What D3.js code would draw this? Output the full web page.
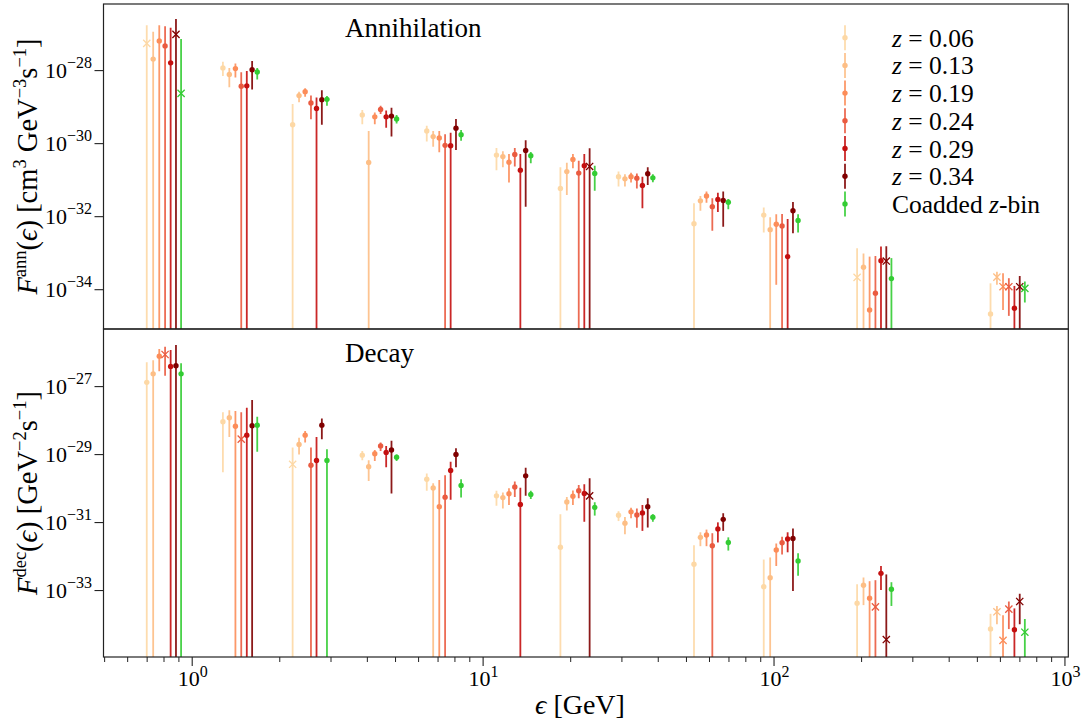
<!DOCTYPE html>
<html><head><meta charset="utf-8">
<script src="https://cdn.jsdelivr.net/npm/d3@7"></script>
<style>
body{margin:0;background:#fff}
svg{display:block}
text{font-family:"Liberation Serif","Times New Roman",serif;fill:#000}
</style>
</head><body><svg id="c" width="1086" height="724"></svg>
<script>
// ---- data ----
const energies = [0.81, 1.48, 2.57, 4.46, 7.43, 12.9, 21.4, 33.9, 61.6, 107, 224, 644];
const dodgeFactors = [0.865, 0.91, 0.955, 1, 1.045, 1.09, 1.135];
const zLabels = ["0.06", "0.13", "0.19", "0.24", "0.29", "0.34"];
const coaddLabel = "Coadded";
const seriesColors = ["#fdd8a5", "#fdbe85", "#fc8d59", "#ea5b40", "#c41010", "#800000", "#33cc33"];

// negative value = plotted as |value| with an "x" marker; lower bound 0 = bar runs off the axis
const annValue = [
  [-5.4e-28, 1.15e-28, 3.2e-30, 5.9e-30, 2.14e-30, 4.7e-31, 5.75e-32, 1.20e-31, 6.2e-33, 1.07e-32, -2.1e-34, 2.1e-35],
  [2.0e-28, 7.6e-29, 2.0e-29, 2.95e-31, 1.51e-30, 4.27e-31, 1.66e-31, 1.05e-31, 2.63e-32, 4.27e-33, 4.0e-34, -2.14e-34],
  [6.3e-28, 1.10e-28, 2.57e-29, 5.25e-30, 1.38e-30, 3.0e-31, 3.55e-31, 1.20e-31, 3.55e-32, 6.0e-33, 2.7e-35, -1.17e-34],
  [4.6e-28, 3.6e-29, 1.26e-29, 8.3e-30, 8.7e-31, 4.9e-31, 1.51e-31, 1.10e-31, 1.82e-32, 5.4e-33, 7.8e-35, -1.17e-34],
  [1.58e-28, 3.7e-29, 8.9e-30, 5.25e-30, 8.5e-31, 1.82e-31, 2.4e-31, 6.9e-32, 2.88e-32, 7.8e-34, 6.0e-34, 3.0e-35],
  [-9.5e-28, 1.02e-28, 1.55e-29, 5.5e-30, 2.57e-30, 6.3e-31, -2.3e-31, 1.45e-31, 2.69e-32, 1.41e-32, -5.9e-34, -1.17e-34],
  [-2.3e-29, 8.9e-29, 1.58e-29, 4.6e-30, 1.70e-30, 4.5e-31, 1.48e-31, 1.12e-31, 2.40e-32, 7.6e-33, 1.95e-34, -1.05e-34]
];
const annLower = [
  [0, 6.9e-29, 0, 3.3e-30, 1.10e-30, 1.82e-31, 0, 6.5e-32, 0, 3.55e-33, 0, 0],
  [0, 3.39e-29, 1.32e-29, 0, 7.9e-31, 2.19e-31, 3.8e-32, 6.5e-32, 1.41e-32, 0, 0, 1.32e-34],
  [0, 6.3e-29, 1.86e-29, 3.3e-30, 5.6e-31, 8.3e-32, 2.04e-31, 8.3e-32, 2.34e-32, 1.32e-34, 0, 2.7e-35],
  [0, 0, 4.5e-30, 6.3e-30, 0, 2.29e-31, 0, 5.75e-32, 4.0e-33, 0, 0, 1.86e-35],
  [0, 0, 0, 2.63e-30, 0, 0, 0, 1.66e-32, 1.29e-32, 0, 0, 0],
  [0, 2.95e-29, 3.2e-30, 1.51e-30, 6.5e-31, 1.82e-32, 0, 7.1e-32, 5.1e-33, 3.4e-33, 0, 0],
  [0, 5.5e-29, 1.05e-29, 3.47e-30, 1.17e-30, 2.82e-31, 5.0e-32, 8.5e-32, 1.55e-32, 3.55e-33, 0, 4.3e-35]
];
const annUpper = [
  [1.7e-27, 1.7e-28, 1.18e-29, 8.1e-30, 3.0e-30, 7.4e-31, 2.19e-31, 1.66e-31, 2.24e-32, 1.74e-32, 1.32e-33, 1.45e-34],
  [1.12e-27, 1.15e-28, 2.57e-29, 2.14e-30, 2.14e-30, 6.0e-31, 2.88e-31, 1.41e-31, 3.55e-32, 9.3e-33, 9.5e-34, 3.0e-34],
  [1.7e-27, 1.51e-28, 3.16e-29, 6.9e-30, 2.14e-30, 5.0e-31, 5.0e-31, 1.55e-31, 4.7e-32, 1.12e-32, 7.8e-34, 2.75e-34],
  [1.58e-27, 8.7e-29, 2.0e-29, 1.05e-29, 1.74e-30, 7.4e-31, 3.3e-31, 1.48e-31, 3.1e-32, 1.15e-32, 8.1e-34, 2.0e-34],
  [1.45e-27, 9.5e-29, 1.78e-29, 7.8e-30, 1.91e-30, 5.0e-31, 5.0e-31, 1.20e-31, 4.37e-32, 8.3e-33, 1.48e-33, 1.23e-34],
  [2.5e-27, 1.78e-28, 2.8e-29, 9.3e-30, 4.6e-30, 1.2e-30, 7.2e-31, 2.19e-31, 4.7e-32, 2.45e-32, 1.51e-33, 2.29e-34],
  [7.1e-28, 1.15e-28, 1.95e-29, 5.9e-30, 2.29e-30, 5.75e-31, 2.4e-31, 1.41e-31, 2.95e-32, 1.12e-32, 7.1e-34, 1.62e-34]
];

const decValue = [
  [1.29e-27, 8.9e-29, -5.0e-30, 9.3e-30, 1.82e-30, 5.9e-31, 1.82e-32, 1.58e-31, 5.75e-33, 1.26e-33, 4.07e-34, 7.2e-35],
  [2.29e-27, 1.17e-28, 1.91e-29, 4.27e-30, 1.0e-30, 5.25e-31, 3.9e-31, 9.3e-32, 3.55e-32, 2.29e-33, 1.38e-33, -2.29e-34],
  [7.6e-27, 6.6e-29, 3.6e-29, 1.02e-29, 2.82e-31, 6.8e-31, 5.75e-31, 2.0e-31, 4.17e-32, 1.51e-32, 5.75e-34, -3.3e-35],
  [-8.5e-27, -2.75e-29, 4.7e-30, 1.74e-29, 5.4e-31, 1.07e-30, 8.3e-31, 1.62e-31, 2.0e-32, 2.45e-32, -3.2e-34, -2.75e-34],
  [3.8e-27, 3.6e-29, 6.5e-30, 1.12e-29, 3.3e-30, 3.3e-31, 6.9e-31, 1.86e-31, 6.3e-32, 3.16e-32, 3.1e-33, 6.8e-35],
  [3.98e-27, 6.8e-29, 7.1e-29, 1.32e-29, 9.8e-30, 2.29e-30, -5.9e-31, 2.82e-31, 1.20e-31, 3.3e-32, -3.5e-35, -4.6e-34],
  [2.29e-27, 7.1e-29, 6.5e-30, 8.1e-30, 1.20e-30, 6.5e-31, 2.69e-31, 1.38e-31, 2.51e-32, 7.2e-33, 1.05e-33, -5.75e-35]
];
const decLower = [
  [0, 2.9e-30, 0, 6.6e-30, 8.3e-31, 3.0e-31, 0, 1.07e-31, 0, 0, 0, 0],
  [0, 3.2e-29, 9.8e-30, 1.62e-30, 0, 2.51e-31, 2.19e-31, 4.4e-32, 1.95e-32, 0, 3.6e-34, 9.8e-35],
  [2.75e-27, 0, 2.19e-29, 6.3e-30, 0, 3.16e-31, 3.16e-31, 1.29e-31, 1.95e-32, 5.1e-33, 0, 0],
  [2.0e-27, 0, 0, 1.23e-29, 0, 5.5e-31, 5.0e-31, 6.8e-32, 0, 1.12e-32, 0, 7.1e-35],
  [0, 0, 0, 4.07e-30, 4.5e-31, 0, 1.02e-31, 5.5e-32, 2.51e-32, 1.29e-32, 1.0e-33, 0],
  [0, 0, 2.75e-29, 6.9e-31, 4.07e-30, 5.9e-31, 0, 6.9e-32, 5.5e-32, 9.3e-34, 0, 9.8e-35],
  [0, 1.17e-29, 0, 6.3e-30, 5.25e-31, 4.8e-31, 1.55e-31, 1.02e-31, 1.45e-32, 2.63e-33, 3.4e-34, 0]
];
const decUpper = [
  [5.0e-27, 1.70e-28, 1.55e-29, 1.23e-29, 2.69e-30, 8.3e-31, 1.70e-31, 2.09e-31, 2.09e-32, 7.9e-33, 1.48e-33, 2.0e-34],
  [5.75e-27, 1.95e-28, 3.0e-29, 6.6e-30, 1.38e-30, 7.4e-31, 5.5e-31, 1.41e-31, 5.0e-32, 9.1e-33, 2.34e-33, 3.4e-34],
  [1.23e-26, 1.86e-28, 4.8e-29, 1.32e-29, 1.74e-30, 9.8e-31, 8.5e-31, 2.63e-31, 6.0e-32, 2.34e-32, 1.82e-33, 1.82e-34],
  [1.45e-26, 1.70e-28, 1.55e-29, 2.19e-29, 2.4e-30, 1.55e-30, 1.23e-30, 2.51e-31, 4.7e-32, 3.7e-32, 1.95e-33, 4.6e-34],
  [1.15e-26, 2.29e-28, 3.2e-29, 1.74e-29, 5.9e-30, 1.02e-30, 1.29e-30, 3.16e-31, 9.8e-32, 5.0e-32, 5.1e-33, 2.88e-34],
  [1.62e-26, 3.9e-28, 1.12e-28, 2.45e-29, 1.48e-29, 3.98e-30, 1.95e-30, 5.0e-31, 1.82e-31, 6.5e-32, 2.88e-33, 7.8e-34],
  [4.7e-27, 1.26e-28, 1.38e-29, 9.8e-30, 1.82e-30, 8.3e-31, 3.8e-31, 1.70e-31, 3.55e-32, 1.20e-32, 1.70e-33, 1.41e-34]
];

const annTicks = [1e-28, 1e-30, 1e-32, 1e-34];
const annTickExp = ["−28", "−30", "−32", "−34"];
const decTicks = [1e-27, 1e-29, 1e-31, 1e-33];
const decTickExp = ["−27", "−29", "−31", "−33"];
const xMajorTicks = [1, 10, 100, 1000];
const xMajorExp = ["0", "1", "2", "3"];
const xMinorTicks = [0.5, 0.6, 0.7, 0.8, 0.9, 2, 3, 4, 5, 6, 7, 8, 9, 20, 30, 40, 50, 60, 70, 80, 90, 200, 300, 400, 500, 600, 700, 800, 900];

// ---- layout ----
const svg = d3.select("#c");
const L = 103.5, R = 1068.3;
const x = d3.scaleLog().domain([0.4975, 1031]).range([L, R]);

const panels = [
  {id: "ann", top: 4, bottom: 329, y: d3.scaleLog().domain([Math.pow(10, -35.09), Math.pow(10, -26.19)]).range([329, 4]),
   values: annValue, lower: annLower, upper: annUpper, ticks: annTicks, tickExp: annTickExp, title: "Annihilation", titleY: 37},
  {id: "dec", top: 329, bottom: 657, y: d3.scaleLog().domain([Math.pow(10, -34.97), Math.pow(10, -25.32)]).range([657, 329]),
   values: decValue, lower: decLower, upper: decUpper, ticks: decTicks, tickExp: decTickExp, title: "Decay", titleY: 362}
];

const defs = svg.append("defs");

panels.forEach(p => {
  defs.append("clipPath").attr("id", "clip-" + p.id)
    .append("rect").attr("x", L).attr("y", p.top).attr("width", R - L).attr("height", p.bottom - p.top);

  const g = svg.append("g");
  const plot = g.append("g").attr("clip-path", `url(#clip-${p.id})`);

  for (let s = 0; s < 7; s++) {
    const col = seriesColors[s];
    const sg = plot.append("g");
    const pts = energies.map((e, i) => ({
      e: e * dodgeFactors[s], v: p.values[s][i], lo: p.lower[s][i], hi: p.upper[s][i]
    }));
    sg.selectAll("line.eb").data(pts).join("line")
      .attr("x1", d => x(d.e)).attr("x2", d => x(d.e))
      .attr("y1", d => p.y(d.hi))
      .attr("y2", d => d.lo > 0 ? p.y(d.lo) : p.bottom + 5)
      .attr("stroke", col).attr("stroke-width", 1.8).attr("stroke-opacity", 0.9);
    sg.selectAll("circle").data(pts.filter(d => d.v > 0)).join("circle")
      .attr("cx", d => x(d.e)).attr("cy", d => p.y(d.v)).attr("r", 2.7).attr("fill", col);
    sg.selectAll("path.xm").data(pts.filter(d => d.v < 0)).join("path")
      .attr("d", d => { const cx = x(d.e), cy = p.y(-d.v), k = 3.6;
        return `M${cx-k},${cy-k}L${cx+k},${cy+k}M${cx-k},${cy+k}L${cx+k},${cy-k}`; })
      .attr("stroke", col).attr("stroke-width", 1.3).attr("fill", "none");
  }

  // frame
  g.append("rect").attr("x", L).attr("y", p.top).attr("width", R - L).attr("height", p.bottom - p.top)
    .attr("fill", "none").attr("stroke", "#222").attr("stroke-width", 1.2);

  // y ticks
  const ya = g.append("g").attr("transform", `translate(${L},0)`)
    .call(d3.axisLeft(p.y).tickValues(p.ticks).tickSize(9).tickFormat(""));
  ya.select(".domain").remove();
  ya.selectAll(".tick line").attr("stroke", "#222").attr("stroke-width", 1.1);

  p.ticks.forEach((t, i) => {
    const tx = g.append("text").attr("x", 92).attr("y", p.y(t) + 7.5).attr("text-anchor", "end");
    tx.append("tspan").attr("font-size", 22).text("10");
    tx.append("tspan").attr("font-size", 16).attr("dy", -10).text(p.tickExp[i]);
  });

  g.append("text").attr("x", 345).attr("y", p.titleY).attr("font-size", 27).text(p.title);
});

// x axis (bottom panel)
const bottomY = panels[1].bottom;
const xa = svg.append("g").attr("transform", `translate(0,${bottomY})`)
  .call(d3.axisBottom(x).tickValues(xMajorTicks).tickSize(9).tickFormat(""));
xa.select(".domain").remove();
xa.selectAll(".tick line").attr("stroke", "#222").attr("stroke-width", 1.1);
const xm = svg.append("g").attr("transform", `translate(0,${bottomY})`)
  .call(d3.axisBottom(x).tickValues(xMinorTicks).tickSize(5).tickFormat(""));
xm.select(".domain").remove();
xm.selectAll(".tick line").attr("stroke", "#222").attr("stroke-width", 1);

xMajorTicks.forEach((t, i) => {
  const tx = svg.append("text").attr("x", x(t) + 1).attr("y", 686).attr("text-anchor", "middle");
  tx.append("tspan").attr("font-size", 22).text("10");
  tx.append("tspan").attr("font-size", 16).attr("dy", -9).text(xMajorExp[i]);
});

// x label
const xl = svg.append("text").attr("x", 580).attr("y", 714).attr("text-anchor", "middle").attr("font-size", 28);
xl.append("tspan").attr("font-style", "italic").text("ϵ");
xl.append("tspan").text(" [GeV]");

// y labels
function yLabel(cy, parts) {
  const t = svg.append("text").attr("transform", `translate(37,${cy}) rotate(-90)`)
    .attr("text-anchor", "middle").attr("font-size", 28.5);
  parts.forEach(pt => {
    const ts = t.append("tspan").text(pt.t);
    if (pt.it) ts.attr("font-style", "italic");
    if (pt.sup) ts.attr("font-size", 18.5).attr("dy", -11);
    if (pt.down) ts.attr("dy", 11);
  });
}
yLabel(166.5, [
  {t: "F", it: 1}, {t: "ann", sup: 1}, {t: "(", down: 1}, {t: "ϵ", it: 1}, {t: ") [cm"},
  {t: "3", sup: 1}, {t: " GeV", down: 1}, {t: "−3", sup: 1}, {t: "s", down: 1}, {t: "−1", sup: 1}, {t: "]", down: 1}
]);
yLabel(493, [
  {t: "F", it: 1}, {t: "dec", sup: 1}, {t: "(", down: 1}, {t: "ϵ", it: 1}, {t: ") [GeV"},
  {t: "−2", sup: 1}, {t: "s", down: 1}, {t: "−1", sup: 1}, {t: "]", down: 1}
]);

// legend
const legY0 = 37.7, legDY = 27.7, legX = 845;
const legendItems = zLabels.map((z, i) => ({i, z})).concat([{i: 6, z: null}]);
legendItems.forEach((d, k) => {
  const cy = legY0 + k * legDY;
  const col = seriesColors[d.i];
  svg.append("line").attr("x1", legX).attr("x2", legX).attr("y1", cy - 12.5).attr("y2", cy + 12.5)
    .attr("stroke", col).attr("stroke-width", 1.8).attr("stroke-opacity", 0.9);
  svg.append("circle").attr("cx", legX).attr("cy", cy).attr("r", 2.7).attr("fill", col);
  const t = svg.append("text").attr("x", 892).attr("y", cy + 9).attr("font-size", 25.5);
  if (d.z) {
    t.append("tspan").attr("font-style", "italic").text("z");
    t.append("tspan").text(" = " + d.z);
  } else {
    t.append("tspan").text(coaddLabel + " ");
    t.append("tspan").attr("font-style", "italic").text("z");
    t.append("tspan").text("-bin");
  }
});
</script>
</body></html>
